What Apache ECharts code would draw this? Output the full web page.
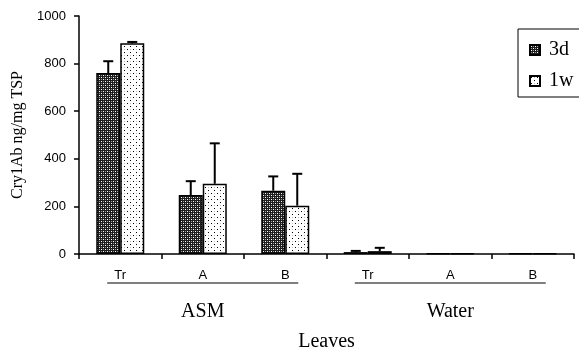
<!DOCTYPE html>
<html>
<head>
<meta charset="utf-8">
<script src="https://cdn.jsdelivr.net/npm/echarts@6/dist/echarts.min.js"></script>
<style>
  html, body { margin: 0; padding: 0; background: #fff; }
  #Main { width: 579px; height: 352px; }
</style>
</head>
<body>
<div id="Main"></div>
<script>
// data
var categories = ['Tr', 'A', 'B', 'Tr', 'A', 'B'];
var groups = ['ASM', 'Water'];
var d3Values = [760, 248, 266, 8, 3, 3];
var d3Errors = [50, 58, 60, 5, 0, 0];
var w1Values = [885, 295, 203, 12, 3, 3];
var w1Errors = [6, 170, 134, 14, 0, 0];

// fill patterns
function makePattern(size, bg, dots) {
  var c = document.createElement('canvas');
  c.width = size; c.height = size;
  var ctx = c.getContext('2d');
  ctx.fillStyle = bg;
  ctx.fillRect(0, 0, size, size);
  dots.forEach(function (d) {
    ctx.fillStyle = d[2];
    ctx.fillRect(d[0], d[1], 1, 1);
  });
  return c;
}
var pat3d = makePattern(4, '#1e1e1e', [[1, 1, '#ffffff'], [3, 3, '#ffffff'], [1, 3, '#9a9a9a'], [3, 1, '#9a9a9a']]);
var pat1w = makePattern(6, '#ffffff', [[1, 1, '#000000'], [4, 4, '#000000'], [4, 1, '#bbbbbb']]);

function errData(vals, errs) {
  return vals.map(function (v, i) { return [i, v, errs[i]]; });
}

function errRender(offset) {
  return function (params, api) {
    var idx = api.value(0);
    var v = api.value(1);
    var e = api.value(2);
    if (!e) return;
    var p0 = api.coord([idx, v]);
    var p1 = api.coord([idx, v + e]);
    var x = p0[0] + offset;
    var st = { stroke: '#000', lineWidth: 2 };
    return {
      type: 'group',
      children: [
        { type: 'line', shape: { x1: x, y1: p0[1], x2: x, y2: p1[1] }, style: st },
        { type: 'line', shape: { x1: x - 5, y1: p1[1], x2: x + 5, y2: p1[1] }, style: st }
      ]
    };
  };
}

var Main = echarts.init(document.getElementById('Main'));
Main.setOption({
  animation: false,
  grid: {
    left: 79,
    right: 5,
    top: 16,
    bottom: 98,
    outerBoundsMode: 'none'
  },
  legend: {
    orient: 'vertical',
    left: 518,
    top: 29,
    padding: [11, 20, 6, 11],
    itemGap: 11,
    itemWidth: 10,
    itemHeight: 10,
    borderColor: '#000',
    borderWidth: 1,
    borderRadius: 0,
    textStyle: {
      fontFamily: 'Liberation Serif',
      fontSize: 20,
      color: '#000',
      padding: [0, 0, 0, 4]
    },
    data: [
      { name: '3d', icon: 'rect' },
      { name: '1w', icon: 'rect' }
    ]
  },
  xAxis: [
    {
      type: 'category',
      data: categories,
      axisLine: { lineStyle: { color: '#000', width: 1.5 } },
      axisTick: { show: true, length: 5, lineStyle: { color: '#000', width: 1.5 } },
      axisLabel: {
        margin: 15,
        fontFamily: 'Liberation Sans',
        fontSize: 13,
        color: '#000'
      }
    },
    {
      type: 'category',
      position: 'bottom',
      data: groups,
      axisLine: { show: false },
      axisTick: { show: false },
      axisLabel: {
        margin: 48,
        fontFamily: 'Liberation Serif',
        fontSize: 20,
        color: '#000'
      },
      name: 'Leaves',
      nameLocation: 'middle',
      nameGap: 78,
      nameTextStyle: {
        fontFamily: 'Liberation Serif',
        fontSize: 20,
        color: '#000'
      }
    }
  ],
  yAxis: {
    type: 'value',
    min: 0,
    max: 1000,
    interval: 200,
    splitLine: { show: false },
    axisLine: { show: true, lineStyle: { color: '#000', width: 1.5 } },
    axisTick: { show: true, length: 5, lineStyle: { color: '#000', width: 1.5 } },
    axisLabel: {
      margin: 13,
      fontFamily: 'Liberation Sans',
      fontSize: 13,
      color: '#000',
      formatter: function (v) { return String(v); }
    },
    name: 'Cry1Ab ng/mg TSP',
    nameLocation: 'middle',
    nameRotate: 90,
    nameGap: 53,
    nameTextStyle: {
      fontFamily: 'Liberation Serif',
      fontSize: 16,
      color: '#000'
    }
  },
  series: [
    {
      name: '3d',
      type: 'bar',
      barWidth: 24,
      barGap: '0%',
      data: d3Values,
      itemStyle: {
        color: { image: pat3d, repeat: 'repeat' },
        borderColor: '#000',
        borderWidth: 1.5
      }
    },
    {
      name: '1w',
      type: 'bar',
      barWidth: 24,
      barGap: '0%',
      data: w1Values,
      itemStyle: {
        color: { image: pat1w, repeat: 'repeat' },
        borderColor: '#000',
        borderWidth: 1.5
      }
    },
    {
      name: '3d err',
      type: 'custom',
      renderItem: errRender(-12),
      encode: { x: 0, y: 1 },
      data: errData(d3Values, d3Errors),
      z: 5
    },
    {
      name: '1w err',
      type: 'custom',
      renderItem: errRender(12),
      encode: { x: 0, y: 1 },
      data: errData(w1Values, w1Errors),
      z: 5
    }
  ]
});

// group underlines under Tr..B
var yLine = Main.convertToPixel({ yAxisIndex: 0 }, 0) + 29;
var lines = [];
[[0, 2], [3, 5]].forEach(function (g) {
  var xa = Main.convertToPixel({ xAxisIndex: 0 }, g[0]) - 13;
  var xb = Main.convertToPixel({ xAxisIndex: 0 }, g[1]) + 13;
  lines.push({
    type: 'line',
    shape: { x1: xa, y1: yLine, x2: xb, y2: yLine },
    style: { stroke: '#000', lineWidth: 1.2 }
  });
});
Main.setOption({ graphic: lines });
</script>
</body>
</html>
